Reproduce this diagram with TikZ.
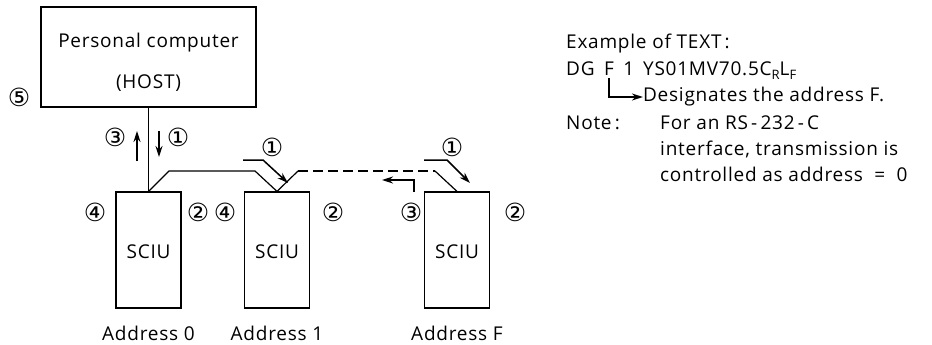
\documentclass[tikz,border=0pt]{standalone}
\usepackage{fontspec}
\setmainfont{Open Sans}[LetterSpace=4]
\newfontfamily\circfont{DejaVu Sans}
\usetikzlibrary{arrows.meta}
\tikzset{
  box/.style={draw, line width=1.2pt, inner sep=0pt},
  txt/.style={font=\fontsize{19}{22}\selectfont, inner sep=0pt},
  rtxt/.style={font=\fontsize{19}{22}\selectfont, inner sep=0pt, anchor=west},
  circ/.style={font=\circfont\fontsize{25}{27}\selectfont, inner sep=0pt},
  wire/.style={line width=1.2pt},
  arr/.style={line width=1.5pt, -{Stealth[length=11pt,width=7pt]}}
}
\newcommand{\subR}[1]{\raisebox{-0.35ex}{\fontsize{13}{14}\selectfont #1}}
\begin{document}
\begin{tikzpicture}[x=1pt,y=-1pt]
\useasboundingbox (0,0) rectangle (932,345);
% host
\node[box, minimum width=215pt, minimum height=100pt] (host) at (148.5,57) {};
\node[txt] (hostA) at (148.5,43) {Personal computer};
\node[txt] (hostB) at (148.5,83) {(HOST)};
\node[circ] (c5) at (19,97) {⑤};
% SCIU units
\node[box, minimum width=65pt, minimum height=116pt] (s0) at (148.5,250) {};
\node[box, minimum width=65pt, minimum height=116pt] (s1) at (277,250) {};
\node[box, minimum width=65pt, minimum height=116pt] (sF) at (457,250) {};
\node[txt] (t0) at (148.5,252) {SCIU};
\node[txt] (t1) at (277,252) {SCIU};
\node[txt] (tF) at (457,252) {SCIU};
\node[txt] (a0) at (148.5,333) {Address 0};
\node[txt] (a1) at (277,333) {Address 1};
\node[txt] (aF) at (457,333) {Address F};
\node[circ] (l4a) at (95,212) {④};
\node[circ] (l2a) at (198,212) {②};
\node[circ] (l4b) at (225,212) {④};
\node[circ] (l2b) at (333,212) {②};
\node[circ] (l3c) at (411,212) {③};
\node[circ] (l2c) at (515,212) {②};
% bus
\coordinate (b1) at (169,171);
\coordinate (b2) at (255,171);
\coordinate (b3) at (298,171);
\coordinate (b4) at (435,171);
\draw[wire] (host.south) -- (s0.north);
\draw[wire] (s0.north) -- (b1) -- (b2) -- (s1.north) -- (b3);
\draw[wire, dash pattern=on 10pt off 5pt] (b3) -- (b4);
\draw[wire] (b4) -- (sF.north);
% host arrows
\coordinate (d1) at (159,131); \coordinate (d2) at (159,157);
\coordinate (u1) at (137,161); \coordinate (u2) at (137,131);
\draw[arr] (d1) -- (d2);
\draw[arr] (u1) -- (u2);
\node[circ] (h1) at (178,137) {①};
\node[circ] (h3) at (115,137) {③};
% arrow 1 near s1
\coordinate (p1) at (243,160); \coordinate (p2) at (263,160); \coordinate (p3) at (288,183);
\draw[arr] (p1) -- (p2) -- (p3);
\node[circ] (n1) at (272,147) {①};
% arrow 1 near sF
\coordinate (q1) at (424,160); \coordinate (q2) at (447,160); \coordinate (q3) at (470,183);
\draw[arr] (q1) -- (q2) -- (q3);
\node[circ] (n2) at (452,147) {①};
% arrow 3 near sF
\coordinate (r1) at (414,192); \coordinate (r2) at (414,180); \coordinate (r3) at (382,180);
\draw[arr] (r1) -- (r2) -- (r3);
% right text
\node[rtxt] (ex) at (566,44) {Example of TEXT\,:};
\node[rtxt] (dgA) at (566,69) {DG};
\node[rtxt, anchor=base west] (dgF) at ([xshift=9pt]dgA.base east) {F};
\node[rtxt, anchor=base west] (dgB) at ([xshift=9pt]dgF.base east) {1\hspace{9pt}YS01MV70.5C\subR{R}L\subR{F}};
\node[rtxt] (des) at ([xshift=34pt]dgF.center |- 0,97) {Designates the address F.};
\node[rtxt] (note) at (566,123) {Note\,:};
\node[rtxt] (n1t) at (660,123) {For an RS\,-\,232\,-\,C};
\node[rtxt] (n2t) at (660,149) {interface, transmission is};
\node[rtxt] (n3t) at (660,174) {controlled as address \ =\ \ 0};
\coordinate (L1) at ([yshift=-2pt]dgF.south);
\draw[line width=1.5pt, -{Stealth[length=11pt,width=7pt]}] (L1) |- (des.west);
\end{tikzpicture}
\end{document}
